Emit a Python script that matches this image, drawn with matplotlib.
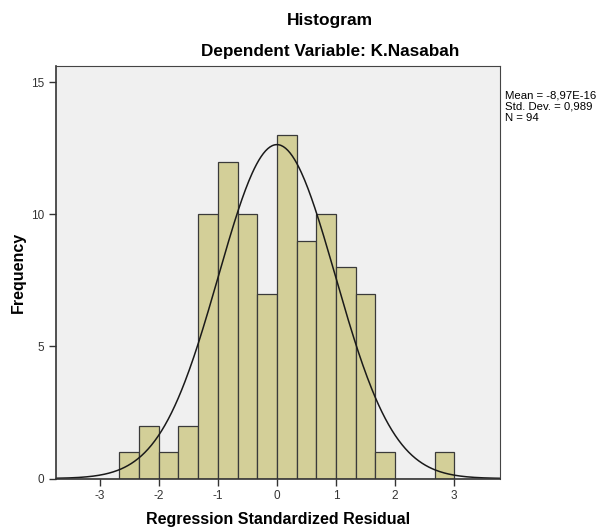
import numpy as np
import matplotlib.pyplot as plt

plt.rcParams['font.family'] = ['Liberation Sans', 'DejaVu Sans']
plt.rcParams['axes.unicode_minus'] = False

# bin edges are thirds from -8/3 to 3
bin_edges = np.arange(-8, 10) / 3.0
counts = [1, 2, 1, 2, 10, 12, 10, 7, 13, 9, 10, 8, 7, 1, 0, 0, 1]
mean = -8.97e-16
std = 0.989
n = 94

fig = plt.figure(figsize=(6, 5.27), dpi=100)
ax = fig.add_axes([0.094, 0.092, 0.739, 0.782])
ax.set_facecolor('#F0F0F0')

width = bin_edges[1] - bin_edges[0]
ax.bar(bin_edges[:-1], counts, width=width, align='edge',
       color='#D3CF98', edgecolor='#3a3a3a', linewidth=0.9)

xs = np.linspace(-3.75, 3.8, 400)
pdf = n * width / (std * np.sqrt(2 * np.pi)) * np.exp(-0.5 * ((xs - mean) / std) ** 2)
ax.plot(xs, pdf, color='#1a1a1a', linewidth=1.1)

ax.set_xlim(-3.73, 3.77)
ax.set_ylim(0, 15.6)
ax.set_xticks([-3, -2, -1, 0, 1, 2, 3])
ax.set_yticks([0, 5, 10, 15])
ax.tick_params(direction='out', length=5, width=1, colors='#333333',
               labelsize=8.5, labelcolor='#333333')
for s in ['top', 'right']:
    ax.spines[s].set_color('#444444')
    ax.spines[s].set_linewidth(0.8)
for s in ['left', 'bottom']:
    ax.spines[s].set_color('#333333')
    ax.spines[s].set_linewidth(1.2)

ax.set_xlabel('Regression Standardized Residual', fontsize=11.5,
              fontweight='bold', labelpad=7)
ax.set_ylabel('Frequency', fontsize=11.5, fontweight='bold', labelpad=4)

fig.text(0.55, 0.962, 'Histogram', ha='center', va='center',
         fontsize=12.5, fontweight='bold')
fig.text(0.55, 0.903, 'Dependent Variable: K.Nasabah', ha='center',
         va='center', fontsize=12.3, fontweight='bold')
fig.text(0.842, 0.828, 'Mean = -8,97E-16\nStd. Dev. = 0,989\nN = 94',
         ha='left', va='top', fontsize=8.2, linespacing=1.12)

fig.savefig('out.png', dpi=100)
